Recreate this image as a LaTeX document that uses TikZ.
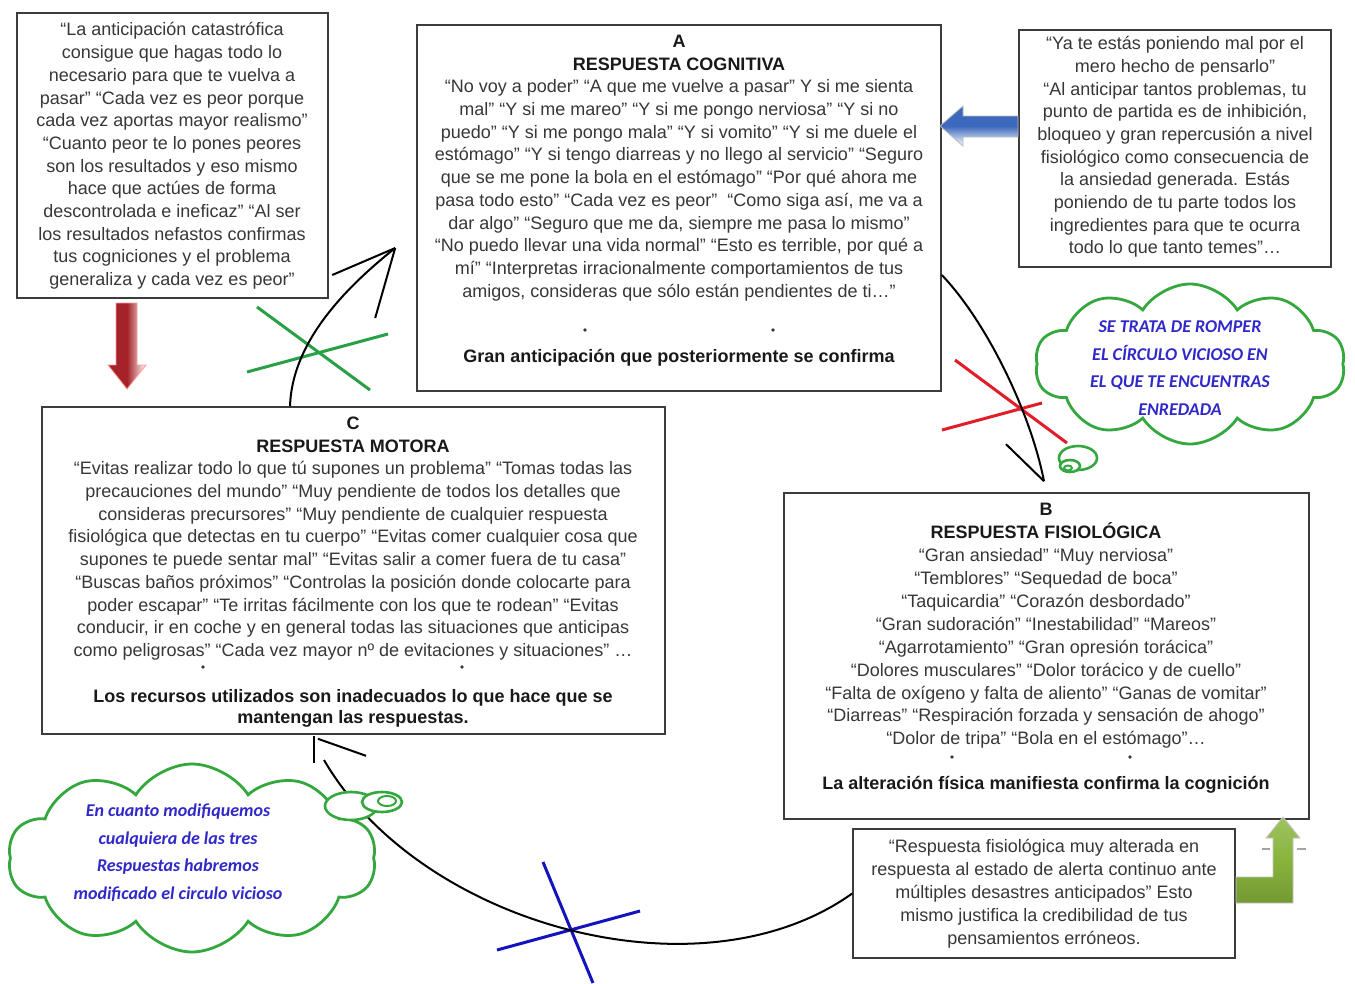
\documentclass[tikz,border=0pt]{standalone}
\usepackage{fontspec}
\setmainfont{Liberation Sans}
\newfontfamily\cloudfont{Carlito}
\usetikzlibrary{shapes.symbols,calc}
\definecolor{boxgray}{RGB}{60,60,60}
\definecolor{textgray}{RGB}{55,55,55}
\definecolor{cloudgreen}{RGB}{52,168,62}
\definecolor{cloudblue}{RGB}{48,40,200}
\definecolor{crossgreen}{RGB}{40,160,70}
\definecolor{crossred}{RGB}{225,30,40}
\definecolor{crossblue}{RGB}{20,20,190}
\definecolor{arrowred}{RGB}{165,35,40}
\definecolor{arrowblue}{RGB}{60,105,190}
\definecolor{arrowgreen}{RGB}{135,180,60}
\newcommand\bodysize{\fontsize{18}{22.7}\selectfont}
\newcommand\cloudsize{\fontsize{18}{27.5}\selectfont}
\tikzset{
  box/.style={draw=boxgray, line width=1.6pt, fill=white, inner sep=0pt},
  body/.style={font=\bodysize, text=textgray, align=center, inner sep=0pt},
  boldline/.style={font=\bodysize\bfseries, text=black!90, align=center, inner sep=0pt},
  thought/.style={cloud, cloud puffs=10, cloud puff arc=115, cloud ignores aspect,
    draw=cloudgreen, line width=2.8pt, fill=white, inner sep=0pt},
  cloudtext/.style={font=\cloudsize\cloudfont\bfseries\itshape, text=cloudblue, align=center, inner sep=0pt},
  bubble/.style={draw=cloudgreen, line width=2.6pt, fill=white},
  conn/.style={draw=black, line width=2pt},
  cross/.style={line width=3pt},
  dot/.style={fill=textgray}
}
\begin{document}
\begin{tikzpicture}[x=1pt,y=-1pt]
\useasboundingbox (0,0) rectangle (1355,983);
\fill[white] (0,0) rectangle (1355,983);

% ---------- boxes ----------
\node[box, minimum width=311pt, minimum height=285pt] (TL) at (172.5,155.5) {};
\node[box, minimum width=524pt, minimum height=366pt] (A) at (679,208) {};
\node[box, minimum width=312pt, minimum height=237pt] (TR) at (1175,148.5) {};
\node[box, minimum width=623pt, minimum height=327pt] (C) at (353.5,570.5) {};
\node[box, minimum width=525pt, minimum height=326pt] (B) at (1046.5,656) {};
\node[box, minimum width=382pt, minimum height=129pt] (BR) at (1044,893.5) {};

% ---------- texts ----------
\node[body] (TLtext) at (172,156) {“La anticipación catastrófica\\
consigue que hagas todo lo\\
necesario para que te vuelva a\\
pasar” “Cada vez es peor porque\\
cada vez aportas mayor realismo”\\
“Cuanto peor te lo pones peores\\
son los resultados y eso mismo\\
hace que actúes de forma\\
descontrolada e ineficaz” “Al ser\\
los resultados nefastos confirmas\\
tus cogniciones y el problema\\
generaliza y cada vez es peor”};

\node[body] (Atext) at (679,168) {{\bfseries\color{black!90}A}\\
{\bfseries\color{black!90}RESPUESTA COGNITIVA}\\
“No voy a poder” “A que me vuelve a pasar” Y si me sienta\\
mal” “Y si me mareo” “Y si me pongo nerviosa” “Y si no\\
puedo” “Y si me pongo mala” “Y si vomito” “Y si me duele el\\
estómago” “Y si tengo diarreas y no llego al servicio” “Seguro\\
que se me pone la bola en el estómago” “Por qué ahora me\\
pasa todo esto” “Cada vez es peor”\ \ “Como siga así, me va a\\
dar algo” “Seguro que me da, siempre me pasa lo mismo”\\
“No puedo llevar una vida normal” “Esto es terrible, por qué a\\
mí” “Interpretas irracionalmente comportamientos de tus\\
amigos, consideras que sólo están pendientes de ti…”};
\node[boldline] (Abold) at (679,358) {Gran anticipación que posteriormente se confirma};
\fill[dot] (585,330) circle (1.8);
\fill[dot] (773,330) circle (1.8);

\node[body] (TRtext) at (1175,147) {“Ya te estás poniendo mal por el\\
mero hecho de pensarlo”\\
“Al anticipar tantos problemas, tu\\
punto de partida es de inhibición,\\
bloqueo y gran repercusión a nivel\\
fisiológico como consecuencia de\\
la ansiedad generada. Estás\\
poniendo de tu parte todos los\\
ingredientes para que te ocurra\\
todo lo que tanto temes”…};

\node[body] (Ctext) at (353,538.5) {{\bfseries\color{black!90}C}\\
{\bfseries\color{black!90}RESPUESTA MOTORA}\\
“Evitas realizar todo lo que tú supones un problema” “Tomas todas las\\
precauciones del mundo” “Muy pendiente de todos los detalles que\\
consideras precursores” “Muy pendiente de cualquier respuesta\\
fisiológica que detectas en tu cuerpo” “Evitas comer cualquier cosa que\\
supones te puede sentar mal” “Evitas salir a comer fuera de tu casa”\\
“Buscas baños próximos” “Controlas la posición donde colocarte para\\
poder escapar” “Te irritas fácilmente con los que te rodean” “Evitas\\
conducir, ir en coche y en general todas las situaciones que anticipas\\
como peligrosas” “Cada vez mayor nº de evitaciones y situaciones” …};
\node[boldline, font=\fontsize{18}{21}\selectfont\bfseries] (Cbold) at (353,708.5) {Los recursos utilizados son inadecuados lo que hace que se\\
mantengan las respuestas.};
\fill[dot] (203,667) circle (1.8);
\fill[dot] (462,667) circle (1.8);

\node[body, font=\fontsize{18}{22.9}\selectfont] (Btext) at (1046,626) {{\bfseries\color{black!90}B}\\
{\bfseries\color{black!90}RESPUESTA FISIOLÓGICA}\\
“Gran ansiedad” “Muy nerviosa”\\
“Temblores” “Sequedad de boca”\\
“Taquicardia” “Corazón desbordado”\\
“Gran sudoración” “Inestabilidad” “Mareos”\\
“Agarrotamiento” “Gran opresión torácica”\\
“Dolores musculares” “Dolor torácico y de cuello”\\
“Falta de oxígeno y falta de aliento” “Ganas de vomitar”\\
“Diarreas” “Respiración forzada y sensación de ahogo”\\
“Dolor de tripa” “Bola en el estómago”…};
\node[boldline] (Bbold) at (1046,785) {La alteración física manifiesta confirma la cognición};
\fill[dot] (952,757) circle (1.8);
\fill[dot] (1130,757) circle (1.8);

\node[body, font=\fontsize{18}{23}\selectfont] (BRtext) at (1044,894) {“Respuesta fisiológica muy alterada en\\
respuesta al estado de alerta continuo ante\\
múltiples desastres anticipados” Esto\\
mismo justifica la credibilidad de tus\\
pensamientos erróneos.};

% ---------- block arrows ----------
\shade[left color=arrowred, right color=white, middle color=arrowred, draw=red!40, line width=0.8pt]
  (116,303) -- (116,365) -- (108,365) -- (127,389) -- (146,365) -- (137,365) -- (137,303) -- cycle;
\shade[top color=arrowblue, bottom color=white, middle color=arrowblue, draw=gray!55, line width=0.8pt]
  (1018,116) -- (963,116) -- (963,106) -- (940,126) -- (963,146) -- (963,137) -- (1018,137) -- cycle;
\shade[top color=arrowgreen!80!white, bottom color=arrowgreen!85!black, middle color=arrowgreen, draw=gray!45, line width=0.8pt]
  (1236,877) -- (1273,877) -- (1273,838) -- (1266,838) -- (1283,817) -- (1300,838) -- (1293,838) -- (1293,903) -- (1236,903) -- cycle;
\draw[gray!70, line width=1.5pt] (1262,849) -- (1270,849);
\draw[gray!70, line width=1.5pt] (1297,849) -- (1306,849);

% ---------- crosses ----------
\draw[cross, crossgreen] (257,307) -- (370,390);
\draw[cross, crossgreen] (247,372) -- (388,334);
\draw[cross, crossred] (955,360) -- (1067,443);
\draw[cross, crossred] (942,430) -- (1042,403);
\draw[cross, crossblue] (543,862) -- (593,983);
\draw[cross, crossblue] (497,950) -- (640,911);

% ---------- connectors ----------
\coordinate (tipA) at ($(A.west)+(-21,40)$);
\draw[conn] ($(C.north)+(-63.5,0)$) .. controls (292,345) and (340,292) .. (tipA);
\draw[conn] (tipA) -- ++(-63,27);
\draw[conn] (tipA) -- ++(-20,70);

\coordinate (tipB) at ($(B.north)+(-2.5,-11)$);
\draw[conn] ($(A.east)+(0,67)$) .. controls (985,320) and (1030,410) .. (tipB);
\draw[conn] (tipB) -- ++(-38,-37);

\coordinate (tipC) at ($(C.south)+(-39.5,1)$);
\coordinate (endC) at (324,760);
\draw[conn] (BR.west) .. controls (700,1002) and (420,925) .. (endC);
\draw[conn] (tipC) -- ++(0,27);
\draw[conn] ($(tipC)+(4,3)$) -- ++(48,17);

% ---------- clouds ----------
\node[thought, minimum width=310pt, minimum height=160pt] (cloudR) at (1190,364) {};
\draw[bubble] (1078,458) ellipse [x radius=19, y radius=12];
\draw[bubble] (1070,466) ellipse [x radius=10, y radius=6];
\draw[bubble, line width=2pt] (1068,468) ellipse [x radius=4, y radius=2.5];
\node[cloudtext] (cloudRtext) at (1180,368) {SE TRATA DE ROMPER\\
EL CÍRCULO VICIOSO EN\\
EL QUE TE ENCUENTRAS\\
ENREDADA};

\node[thought, minimum width=368pt, minimum height=188pt] (cloudL) at (192,858) {};
\draw[bubble] (351,806) ellipse [x radius=26, y radius=14];
\draw[bubble] (382,802) ellipse [x radius=20, y radius=10];
\draw[bubble, line width=2pt] (387,801) ellipse [x radius=9, y radius=5];
\node[cloudtext] (cloudLtext) at (178,852.5) {En cuanto modifiquemos\\
cualquiera de las tres\\
Respuestas habremos\\
modificado el circulo vicioso};
\end{tikzpicture}
\end{document}
